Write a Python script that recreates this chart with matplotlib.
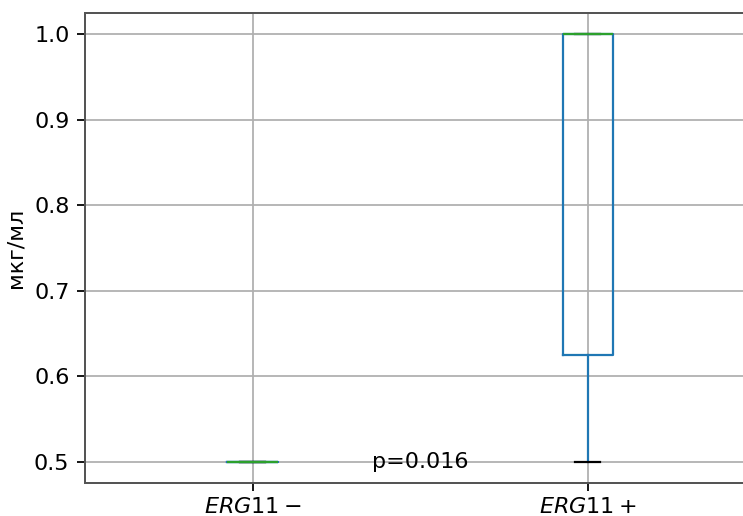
import matplotlib
matplotlib.use("Agg")
import matplotlib.pyplot as plt

# MIC values per group
groups = ["$ERG11-$", "$ERG11+$"]
erg11_neg = [0.5, 0.5, 0.5, 0.5, 0.5, 0.5]
erg11_pos = [0.5, 0.5, 1.0, 1.0, 1.0, 1.0]
p_label = "p=0.016"
y_ticks = [0.5, 0.6, 0.7, 0.8, 0.9, 1.0]

# rendered at 160 dpi so default text / line sizes match the screenshot
dpi = 160
fig = plt.figure(figsize=(743 / dpi, 516 / dpi), dpi=dpi)
ax = fig.add_axes([0.1144, 0.064, 0.902, 0.911])

ax.boxplot(
    [erg11_neg, erg11_pos],
    widths=0.15,
    boxprops=dict(color="#1f77b4"),
    whiskerprops=dict(color="#1f77b4"),
    capprops=dict(color="black"),
    medianprops=dict(color="#2ca02c"),
    flierprops=dict(markeredgecolor="#1f77b4"),
)
ax.set_xticks([1, 2], groups)
ax.set_xlim(0.5, 2.5)
ax.set_ylim(0.475, 1.025)
ax.set_yticks(y_ticks)
ax.tick_params(axis="x", pad=2.6)
ax.grid(True, color="#b0b0b0")
ax.set_axisbelow(True)
ax.set_ylabel("мкг/мл")
ax.text(1.5, 0.5, p_label, ha="center", va="center")

for spine in ax.spines.values():
    spine.set_color("#555555")
    spine.set_linewidth(0.9)

fig.savefig("out.png", dpi=dpi)
plt.close(fig)
